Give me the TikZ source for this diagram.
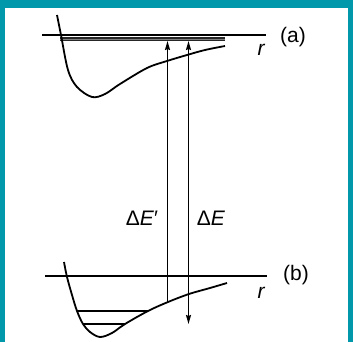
\documentclass[tikz,border=0pt]{standalone}
\usepackage{fontspec}
\setmainfont{Liberation Sans}
\usetikzlibrary{arrows.meta}
\definecolor{frameteal}{RGB}{0,152,170}
\begin{document}
\begin{tikzpicture}[x=1pt,y=-1pt,
  >={Stealth[length=9pt,width=5pt,inset=1pt]},
  curve/.style={line width=1.8pt,line join=round},
  axis/.style={line width=1.6pt},
  level/.style={line width=1.5pt},
  trans/.style={line width=1.5pt},
  lbl/.style={font=\fontsize{21}{24}\selectfont,inner sep=0pt},
  rlbl/.style={font=\fontsize{21}{24}\selectfont\itshape,inner sep=0pt}]
\useasboundingbox (0,0) rectangle (353,342);
\fill[frameteal] (0,0) rectangle (353,8);
\fill[frameteal] (0,0) rectangle (5,342);
\fill[frameteal] (348,0) rectangle (353,342);
% upper state (a)
\coordinate (axA1) at (42,35);
\coordinate (axA2) at (266,35);
\draw[axis] (axA1) -- (axA2);
\coordinate (lvA1) at (60,39);
\coordinate (lvA2) at (225,39);
\draw[line width=3.2pt,black!85] (lvA1) -- (lvA2);
\draw[line width=0.7pt,black!50] (lvA1) -- (lvA2);
\draw[curve] plot[smooth,tension=0.55] coordinates {(57,15) (61,35) (68,70) (77,87) (92,97) (105,94) (120,84) (147,68) (167,61) (187,55) (205,50) (225,46)};
\node[lbl] (la) at (293,37) {(a)};
\node[rlbl] (ra) at (261,50) {r};
% lower state (b)
\coordinate (axB1) at (45,276);
\coordinate (axB2) at (267,276);
\draw[axis] (axB1) -- (axB2);
\draw[curve] plot[smooth,tension=0.55] coordinates {(64,262) (67,277) (72,295) (77,311) (83,324) (90,332) (100,337) (112,333) (125,324) (148,311) (168,302) (189,294) (210,288) (227,283)};
\coordinate (v1a) at (77,311);
\coordinate (v1b) at (148,311);
\coordinate (v2a) at (83,324);
\coordinate (v2b) at (125,324);
\draw[level] (v1a) -- (v1b);
\draw[level] (v2a) -- (v2b);
\node[lbl] (lb) at (296,275) {(b)};
\node[rlbl] (rb) at (261,293) {r};
% transitions
\coordinate (t1b) at (167.5,302);
\coordinate (t1t) at (167.5,41);
\coordinate (t2b) at (188.5,324);
\coordinate (t2t) at (188.5,41);
\draw[trans,->] (t1b) -- (t1t);
\draw[trans,<->] (t2b) -- (t2t);
\node[lbl] (dEp) at (142,218) {Δ\textit{E}′};
\node[lbl] (dE) at (211,218) {Δ\textit{E}};
\end{tikzpicture}
\end{document}
